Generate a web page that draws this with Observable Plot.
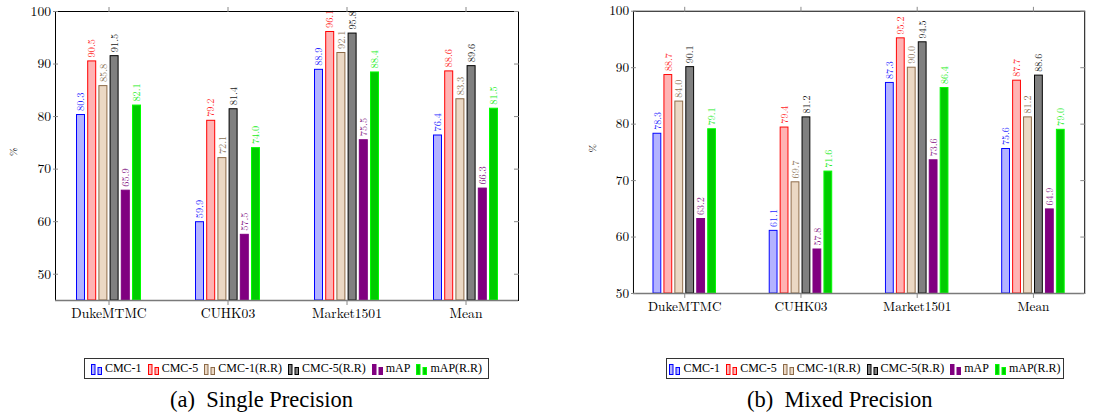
<!DOCTYPE html>
<html><head><meta charset="utf-8">
<script src="https://cdn.jsdelivr.net/npm/d3@7"></script>
<script src="https://cdn.jsdelivr.net/npm/@observablehq/plot@0.6"></script>
<style>
html,body{margin:0;padding:0;background:#fff;overflow:hidden;width:1094px;height:417px;}
#root{position:relative;width:1094px;height:417px;overflow:hidden;}
.chart{position:absolute;top:0;}
.legend{position:absolute;top:358px;height:21px;box-sizing:border-box;border:1px solid #333;display:flex;align-items:center;justify-content:center;font-family:'Liberation Serif','Times New Roman',serif;font-size:12px;white-space:nowrap;color:#000;}
.legend .item{display:flex;align-items:center;margin:0 3px;}
.legend svg{margin-right:2px;}
.caption{position:absolute;top:389px;width:400px;font-family:'Liberation Serif','Times New Roman',serif;font-size:22.5px;line-height:1;text-align:center;white-space:nowrap;color:#000;}
</style>
</head><body>
<div id="root">
  <div id="chartA" class="chart" style="left:0px"></div>
  <div id="chartB" class="chart" style="left:547px"></div>
  <div id="legendA" class="legend" style="left:84px;width:405px"></div>
  <div id="legendB" class="legend" style="left:666px;width:398px"></div>
  <div class="caption" style="left:61.5px">(a)&nbsp;&nbsp;Single Precision</div>
  <div class="caption" style="left:639.7px">(b)&nbsp;&nbsp;Mixed Precision</div>
</div>
<script>
const categories = ["DukeMTMC", "CUHK03", "Market1501", "Mean"];
const series = ["CMC-1", "CMC-5", "CMC-1(R.R)", "CMC-5(R.R)", "mAP", "mAP(R.R)"];
const yTicks = [50, 60, 70, 80, 90, 100];
const yLabel = "%";

// Single precision (a)
const singleCMC1   = [80.3, 59.9, 88.9, 76.4];
const singleCMC5   = [90.5, 79.2, 96.1, 88.6];
const singleCMC1RR = [85.8, 72.1, 92.1, 83.3];
const singleCMC5RR = [91.5, 81.4, 95.8, 89.6];
const singleMAP    = [65.9, 57.5, 75.5, 66.3];
const singleMAPRR  = [82.1, 74.0, 88.4, 81.5];

// Mixed precision (b)
const mixedCMC1   = [78.3, 61.1, 87.3, 75.6];
const mixedCMC5   = [88.7, 79.4, 95.2, 87.7];
const mixedCMC1RR = [84.0, 69.7, 90.0, 81.2];
const mixedCMC5RR = [90.1, 81.2, 94.5, 88.6];
const mixedMAP    = [63.2, 57.8, 73.6, 64.9];
const mixedMAPRR  = [79.1, 71.6, 86.4, 79.0];

const fills = ["#b3b3ff", "#ffb3b3", "#ebd8c4", "#808080", "#800080", "#00cc00"];
const strokes = ["#0000ff", "#ff0000", "#8c6a48", "#000000", "#800080", "#00ff00"];
const labelColors = ["#2a2aff", "#ff2a2a", "#8c7458", "#222222", "#8a2a8a", "#22ee22"];
const cmFont = "'Latin Modern Roman', 'Liberation Serif', serif";

function makeChart(values, yDomain, width, marginLeft, marginRight) {
  const bw = 65, pitch = 11.2, barW = 9;
  const marks = [];
  series.forEach((s, i) => {
    const rows = categories.map((c, j) => ({category: c, value: values[i][j]}));
    marks.push(Plot.barY(rows, {
      x: "category", y1: yDomain[0], y2: "value",
      fill: fills[i], stroke: strokes[i], strokeWidth: 1,
      insetLeft: i * pitch + 0.5, insetRight: bw - i * pitch - barW + 0.5
    }));
    marks.push(Plot.text(rows, {
      x: "category", y: "value", text: d => d.value.toFixed(1),
      rotate: -90, textAnchor: "start", lineAnchor: "middle",
      dx: -bw / 2 + i * pitch + barW / 2, dy: -4,
      fill: labelColors[i], fontSize: 10.3, fontFamily: cmFont
    }));
  });
  marks.push(Plot.frame({stroke: "black", strokeWidth: 1}));
  marks.push(Plot.ruleY([yDomain[0]], {stroke: "#7a7a7a", strokeWidth: 1.5}));
  marks.push(Plot.axisY({ticks: yTicks, tickSize: 5, dx: 3, tickPadding: 2.5, stroke: "#888", fill: "black", label: null, fontSize: 13.6, fontFamily: cmFont}));
  marks.push(Plot.axisY({anchor: "right", ticks: yTicks, tickSize: 5, dx: -5, tickFormat: () => "", stroke: "#888", label: null}));
  marks.push(Plot.axisX({tickSize: 5, tickPadding: 3, stroke: "#888", fill: "black", label: null, fontSize: 13.6, fontFamily: cmFont}));
  marks.push(Plot.axisX({anchor: "top", tickSize: 5, tickFormat: () => "", stroke: "#888", label: null}));
  marks.push(Plot.text([yLabel], {text: d => d, frameAnchor: "left", dx: -42, rotate: -90, fontSize: 10, fill: "black", fontFamily: cmFont}));
  return Plot.plot({
    width, height: 330,
    marginLeft, marginRight, marginTop: 11, marginBottom: 30,
    style: {fontFamily: cmFont, fontSize: "13.6px", background: "white", overflow: "visible"},
    x: {type: "band", domain: categories, paddingInner: 0.455, paddingOuter: 0.167},
    y: {domain: yDomain},
    marks
  });
}

function makeLegend(el) {
  series.forEach((s, i) => {
    const item = document.createElement("div");
    item.className = "item";
    item.innerHTML =
      `<svg width="12" height="12" viewBox="0 0 12 12">` +
      `<rect x="0.5" y="1.5" width="3.5" height="10" fill="${fills[i]}" stroke="${strokes[i]}" stroke-width="1"/>` +
      `<rect x="7" y="4.5" width="3.5" height="7" fill="${fills[i]}" stroke="${strokes[i]}" stroke-width="1"/>` +
      `</svg><span>${s}</span>`;
    el.appendChild(item);
  });
}

document.getElementById("chartA").appendChild(
  makeChart([singleCMC1, singleCMC5, singleCMC1RR, singleCMC5RR, singleMAP, singleMAPRR], [45, 100], 547, 55, 29)
);
document.getElementById("chartB").appendChild(
  makeChart([mixedCMC1, mixedCMC5, mixedCMC1RR, mixedCMC5RR, mixedMAP, mixedMAPRR], [50, 100], 560, 88, 10)
);
makeLegend(document.getElementById("legendA"));
makeLegend(document.getElementById("legendB"));
</script>
</body></html>
